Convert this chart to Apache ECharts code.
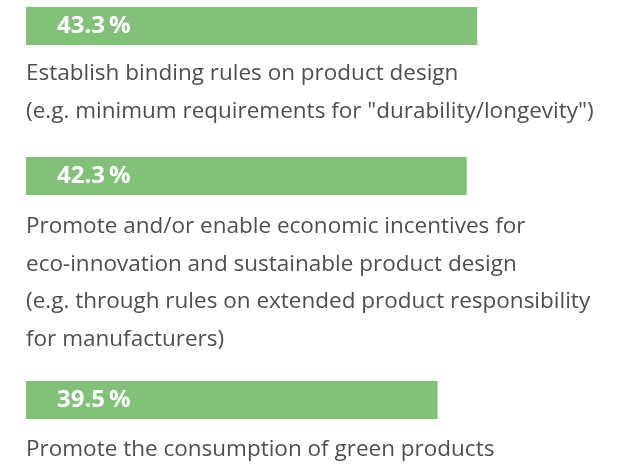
<!DOCTYPE html>
<html>
<head>
<meta charset="utf-8">
<script src="https://cdn.jsdelivr.net/npm/echarts@6/dist/echarts.min.js"></script>
<style>
  html, body { margin: 0; padding: 0; background: #fff; }
  #chart { width: 626px; height: 464px; }
</style>
</head>
<body>
<div id="chart"></div>
<script>
// data
const values = [43.3, 42.3, 39.5]
const descriptions = [
  'Establish binding rules on product design\n(e.g. minimum requirements for "durability/longevity")',
  'Promote and/or enable economic incentives for\neco-innovation and sustainable product design\n(e.g. through rules on extended product responsibility\nfor manufacturers)',
  'Promote the consumption of green products'
]

// layout: top of each bar, and top of the text block under it
const barTops = [7, 157, 381]
const textTops = [55, 208, 431]
const barHeight = 38
const green = '#83c079'
const font = '"Open Sans", "Noto Sans", sans-serif'

const chart = echarts.init(document.getElementById('chart'))

const grids = []
const xAxes = []
const yAxes = []
const series = []
const titles = []

values.forEach((v, i) => {
  grids.push({ left: 26, width: 521, top: barTops[i], height: barHeight })
  xAxes.push({ type: 'value', gridIndex: i, min: 0, max: 50, show: false })
  yAxes.push({ type: 'category', gridIndex: i, data: [''], show: false })
  series.push({
    type: 'bar',
    xAxisIndex: i,
    yAxisIndex: i,
    barWidth: barHeight,
    data: [v],
    itemStyle: { color: green },
    silent: true,
    label: {
      show: true,
      position: 'insideLeft',
      distance: 31,
      color: '#fff',
      fontFamily: font,
      fontWeight: 'bold',
      fontSize: 24,
      formatter: p => p.value.toFixed(1) + '\u2009%'
    }
  })
  titles.push({
    text: descriptions[i],
    left: 26,
    top: textTops[i],
    padding: 0,
    textStyle: {
      fontFamily: font,
      fontWeight: 'normal',
      fontSize: 22.5,
      lineHeight: 37.5,
      color: '#4f4f4f'
    }
  })
})

chart.setOption({
  animation: false,
  title: titles,
  grid: grids,
  xAxis: xAxes,
  yAxis: yAxes,
  series: series
})
</script>
</body>
</html>
